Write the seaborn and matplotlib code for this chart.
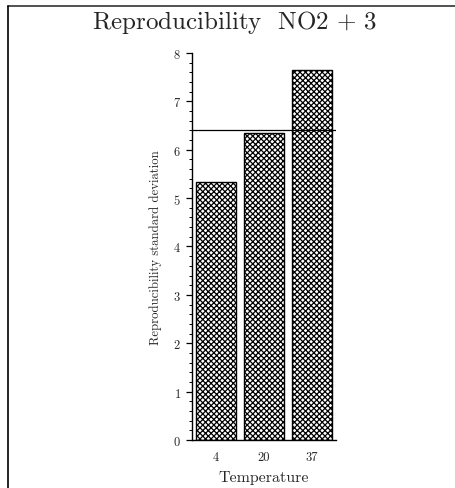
import pandas as pd
import numpy as np
import matplotlib.pyplot as plt
import seaborn as sns
from matplotlib.lines import Line2D
from matplotlib.ticker import MultipleLocator

# --- data ---
temperatures = ["4", "20", "37"]
repro_sd = [5.34, 6.35, 7.64]
reference_level = 6.40

df = pd.DataFrame({"Temperature": temperatures, "SD": repro_sd})

sns.set_theme(style="ticks")
plt.rcParams["font.family"] = ["cmr10", "DejaVu Serif"]
plt.rcParams["mathtext.fontset"] = "cm"
plt.rcParams["axes.formatter.use_mathtext"] = True
plt.rcParams["hatch.linewidth"] = 0.9

fig = plt.figure(figsize=(4.55, 4.89), dpi=100)
ax = fig.add_axes([0.422, 0.0982, 0.3165, 0.7914])

sns.barplot(data=df, x="Temperature", y="SD", order=temperatures, color="white",
            edgecolor="black", linewidth=1.0, width=0.83, ax=ax)
for p in ax.patches:
    p.set_hatch("xxxxxx")
    p.set_facecolor("white")

ax.axhline(reference_level, color="black", lw=0.9)

ax.set_xlim(-0.5, 2.5)
ax.set_ylim(0, 8)
ax.yaxis.set_major_locator(MultipleLocator(1))
ax.yaxis.set_minor_locator(MultipleLocator(0.2))
ax.tick_params(axis="y", which="major", length=4, width=0.9, labelsize=9, pad=4, color="black")
ax.tick_params(axis="y", which="minor", length=2, width=0.7, color="black")
ax.tick_params(axis="x", length=0, labelsize=9, pad=8)
sns.despine(ax=ax)
for s in ["left", "bottom"]:
    ax.spines[s].set_color("black")
    ax.spines[s].set_linewidth(1.0)

ax.set_xlabel("Temperature", fontsize=11.5, labelpad=5)
ax.set_ylabel("Reproducibility standard deviation", fontsize=9.2)
ax.yaxis.set_label_coords(-0.208, 0.5)

fig.text(235 / 455, 1 - 22 / 489, "Reproducibility  NO2$\\,+\\,$3", ha="center", va="center",
         fontsize=18)

# frame lines around the page
fig.add_artist(Line2D([8 / 455, 1], [1 - 7 / 489] * 2, transform=fig.transFigure,
                      color="#333333", lw=1.2))
fig.add_artist(Line2D([8 / 455] * 2, [0, 1 - 7 / 489], transform=fig.transFigure,
                      color="black", lw=1.2))

fig.savefig("out.png", dpi=100)
